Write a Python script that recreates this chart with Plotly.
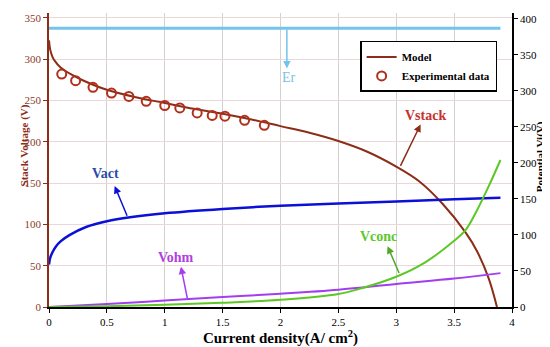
import plotly.graph_objects as go

# ---- data ----
model_x = [0, 0.01, 0.03, 0.05, 0.1, 0.2, 0.3, 0.5, 0.75, 1.0, 1.25, 1.5, 1.75, 2.0,
           2.25, 2.5, 2.75, 3.0, 3.2, 3.4, 3.6, 3.7, 3.8, 3.87]
vstack = [323, 312, 303, 298, 290, 281, 274, 263, 254, 247, 240, 234, 227, 219,
          211, 201, 188, 170, 152, 125, 90, 67, 34, 0]

exp_x = [0.11, 0.23, 0.38, 0.54, 0.69, 0.84, 1.0, 1.13, 1.28, 1.41, 1.52, 1.69, 1.86]
exp_y = [282, 274, 266, 259, 255, 249, 244, 241, 235, 232, 231, 226, 220]

vact_x = [0, 0.01, 0.03, 0.06, 0.1, 0.18, 0.32, 0.5, 0.7, 1.0, 1.5, 2.0, 2.5, 3.0, 3.5, 3.9]
vact = [59, 68, 76, 84, 91, 100, 111, 119, 124.5, 130, 136, 140.5, 143.5, 146.5, 149.5, 151.5]

vohm_x = [0, 0.5, 1.0, 1.5, 2.0, 2.5, 3.0, 3.5, 3.9]
vohm = [0, 4, 9, 13.8, 18.4, 24, 32, 39.5, 47]

vconc_x = [0, 0.5, 1.0, 1.5, 2.0, 2.5, 2.7, 3.0, 3.25, 3.5, 3.6, 3.7, 3.8, 3.9]
vconc = [0, 1, 3, 6, 10, 18, 26, 42, 62, 92, 107, 135, 168, 204]

er_x = [0, 3.9]
er = [387, 387]

x_ticks = [0, 0.5, 1, 1.5, 2, 2.5, 3, 3.5, 4]
x_tick_text = ["0", "0.5", "1", "1.5", "2", "2.5", "3", "3.5", "4"]
left_ticks = [0, 50, 100, 150, 200, 250, 300, 350]
right_ticks = [0, 50, 100, 150, 200, 250, 300, 350, 400]

FONT = "Liberation Serif, Times New Roman, serif"
BROWN = "#8c2d17"

fig = go.Figure()

fig.add_trace(go.Scatter(x=er_x, y=er, mode="lines", yaxis="y2",
                         line=dict(color="#74c3ec", width=3), showlegend=False))
fig.add_trace(go.Scatter(x=vact_x, y=vact, mode="lines", yaxis="y2", line_shape="spline",
                         line=dict(color="#0c10d6", width=2.5), showlegend=False))
fig.add_trace(go.Scatter(x=vohm_x, y=vohm, mode="lines", yaxis="y2", line_shape="spline",
                         line=dict(color="#a23ef0", width=2), showlegend=False))
fig.add_trace(go.Scatter(x=vconc_x, y=vconc, mode="lines", yaxis="y2", line_shape="spline",
                         line=dict(color="#5cc824", width=2), showlegend=False))
fig.add_trace(go.Scatter(x=model_x, y=vstack, mode="lines", name="Model", line_shape="spline",
                         line=dict(color=BROWN, width=2)))
fig.add_trace(go.Scatter(x=exp_x, y=exp_y, mode="markers", name="Experimental data",
                         marker=dict(symbol="circle-open", size=9, color="#b0301c",
                                     line=dict(width=2, color="#b0301c"))))

axis_font = dict(family=FONT, size=11, color="black")

fig.update_layout(
    width=550, height=347,
    margin=dict(l=41, r=46, t=5, b=48),
    plot_bgcolor="white", paper_bgcolor="white",
    font=dict(family=FONT),
    xaxis=dict(range=[0, 4], tickvals=x_ticks, ticktext=x_tick_text,
               showline=True, linecolor="black", linewidth=1.5,
               ticks="outside", ticklen=4, tickcolor="black",
               showgrid=True, gridcolor="#d6d0d0", gridwidth=1, zeroline=False,
               tickfont=axis_font),
    xaxis2=dict(range=[0, 4], overlaying="x", side="top", tickvals=x_ticks,
                showticklabels=False, showline=True, linecolor="black", linewidth=1.5,
                ticks="inside", ticklen=4, tickcolor="black", showgrid=False, zeroline=False),
    yaxis=dict(range=[0, 356], tickvals=left_ticks,
               showline=True, linecolor=BROWN, linewidth=1.5,
               ticks="outside", ticklen=4, tickcolor=BROWN,
               showgrid=True, gridcolor="#ead8d8", gridwidth=1, zeroline=False,
               tickfont=dict(family=FONT, size=11, color="#8b3a2b")),
    yaxis2=dict(range=[0, 408], tickvals=right_ticks, overlaying="y", side="right",
                showline=True, linecolor="black", linewidth=1.5,
                ticks="outside", ticklen=4, tickcolor="black",
                showgrid=False, zeroline=False, tickfont=axis_font),
    legend=dict(x=0.672, y=0.905, xanchor="left", yanchor="top",
                bgcolor="white", bordercolor="black", borderwidth=1.5,
                font=dict(family=FONT, size=11, color="black", weight="bold"),
                tracegroupgap=0, itemwidth=30),
)

# axis titles as annotations for exact placement
fig.add_annotation(text="<b>Current density(A/ cm<sup>2</sup>)</b>", xref="paper", yref="paper",
                   x=0.50, y=-0.105, yanchor="middle", showarrow=False,
                   font=dict(family=FONT, size=15, color="black"))
fig.add_annotation(text="<b>Stack Voltage (V)</b>", xref="paper", yref="paper",
                   x=-0.072, y=0.55, textangle=-90, showarrow=False,
                   font=dict(family=FONT, size=11, color=BROWN))
fig.add_annotation(text="<b>Potential Vi(V)</b>", xref="paper", yref="paper",
                   x=1.079, y=0.51, textangle=-90, showarrow=False,
                   font=dict(family=FONT, size=11, color="black"))

# curve labels
labels = [
    ("Vstack", 3.25, 232, "y", "#c8302c", "bold"),
    ("Vact", 0.49, 185, "y2", "#2a4aa8", "bold"),
    ("Vohm", 1.094, 69, "y2", "#b040e0", "bold"),
    ("Vconc", 2.845, 98, "y2", "#5cc82c", "bold"),
    ("Er", 2.075, 318, "y2", "#7cc0e4", "normal"),
]
for txt, lx, ly, yr, col, w in labels:
    fig.add_annotation(text=txt, x=lx, y=ly, xref="x", yref=yr, showarrow=False,
                       font=dict(family=FONT, size=14, color=col, weight=w))

# arrows: (head x, head y, tail x, tail y, yref, color)
arrows = [
    (3.21, 221, 3.03, 169, "y", BROWN),
    (0.567, 168, 0.68, 124.6, "y2", "#0c10d6"),
    (1.14, 56, 1.198, 9.7, "y2", "#a23ef0"),
    (2.925, 84.4, 3.03, 45, "y2", "#4fa828"),
    (2.055, 331, 2.055, 387, "y2", "#74c3ec"),
]
for hx, hy, tx, ty, yr, col in arrows:
    fig.add_annotation(text="", x=hx, y=hy, xref="x", yref=yr,
                       ax=tx, ay=ty, axref="x", ayref=yr,
                       showarrow=True, arrowhead=2, arrowsize=1, arrowwidth=1.5,
                       arrowcolor=col)

fig.write_html("out.html")
